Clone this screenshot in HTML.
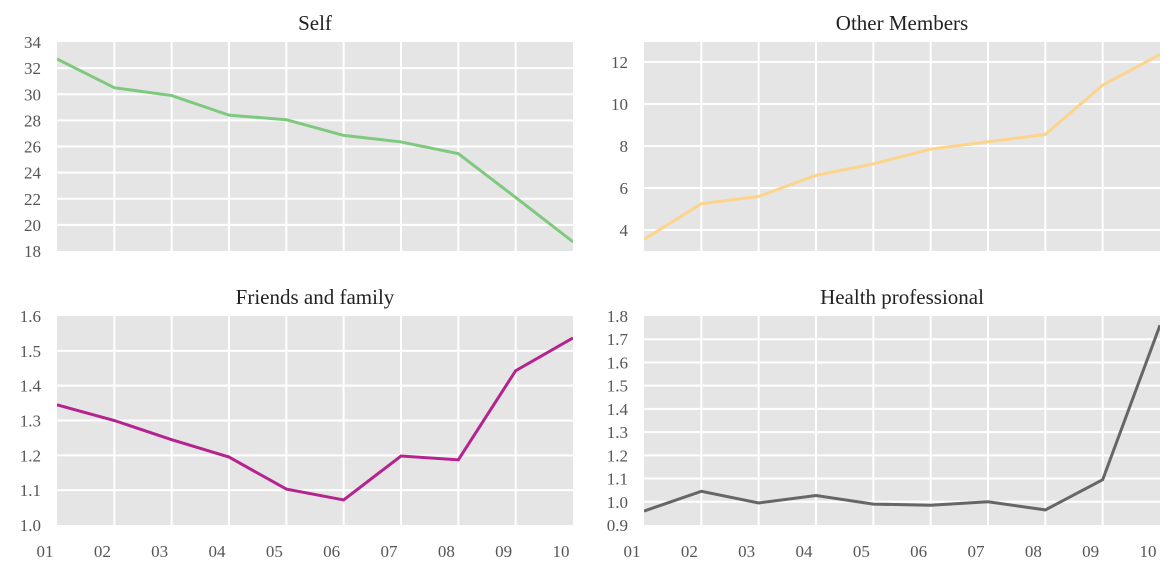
<!DOCTYPE html>
<html><head><meta charset="utf-8"><style>
body{margin:0;background:#fff}
svg text{font-family:"Liberation Serif","DejaVu Serif",serif}
</style></head><body>
<svg id="c" width="1176" height="575"></svg>
<script>
const xLabels=["01","02","03","04","05","06","07","08","09","10"];
const selfVals=[32.7,30.5,29.9,28.4,28.05,26.85,26.35,25.45,22.1,18.7];
const otherVals=[3.55,5.25,5.6,6.6,7.15,7.85,8.2,8.55,10.9,12.35];
const friendsVals=[1.345,1.30,1.245,1.195,1.103,1.072,1.198,1.187,1.443,1.537];
const healthVals=[0.96,1.045,0.995,1.027,0.99,0.985,1.0,0.965,1.095,1.76];
const selfTicks=[18,20,22,24,26,28,30,32,34];
const otherTicks=[4,6,8,10,12];
const friendsTicks=[1.0,1.1,1.2,1.3,1.4,1.5,1.6];
const healthTicks=[0.9,1.0,1.1,1.2,1.3,1.4,1.5,1.6,1.7,1.8];
const NS="http://www.w3.org/2000/svg";
const svg=document.getElementById('c');
function mk(t,a,p){const e=document.createElementNS(NS,t);for(const k in a)e.setAttribute(k,a[k]);(p||svg).appendChild(e);return e;}
const panels=[
 {name:"self",title:"Self",x0:57,y0:42,vals:selfVals,ticks:selfTicks,ymin:18,ymax:34,color:"#7fc97f",fmt:v=>String(v),xl:false},
 {name:"other-members",title:"Other Members",x0:644,y0:42,vals:otherVals,ticks:otherTicks,ymin:3.0,ymax:12.95,color:"#fdd48c",fmt:v=>String(v),xl:false},
 {name:"friends-family",title:"Friends and family",x0:57,y0:316,vals:friendsVals,ticks:friendsTicks,ymin:1.0,ymax:1.6,color:"#b5238f",fmt:v=>v.toFixed(1),xl:true},
 {name:"health-professional",title:"Health professional",x0:644,y0:316,vals:healthVals,ticks:healthTicks,ymin:0.9,ymax:1.8,color:"#666666",fmt:v=>v.toFixed(1),xl:true}
];
const W=516,H=209;
panels.forEach(p=>{
 const g=mk('g',{});
 
 
 const xs=i=>p.x0+i*W/(xLabels.length-1);
 const ys=v=>p.y0+(p.ymax-v)/(p.ymax-p.ymin)*H;
 const bg=mk('rect',{x:p.x0,y:p.y0,width:W,height:H,fill:"#e5e5e5"},g);
 
 
 xLabels.forEach((l,i)=>{
  if(i>0&&i<xLabels.length-1){const gl=mk('line',{x1:xs(i),x2:xs(i),y1:p.y0,y2:p.y0+H,stroke:"#fff","stroke-width":2},g);
  }
  if(p.xl){const t=mk('text',{x:xs(i)-12,y:p.y0+H+32,"text-anchor":"middle","font-size":17,fill:"#555"},g);t.textContent=l;
  }
 });
 p.ticks.forEach(v=>{
  const y=ys(v);
  if(y>p.y0+1&&y<p.y0+H-1){const gl=mk('line',{x1:p.x0,x2:p.x0+W,y1:y,y2:y,stroke:"#fff","stroke-width":2},g);
  }
  const t=mk('text',{x:p.x0-16,y:y+6,"text-anchor":"end","font-size":17,fill:"#555"},g);t.textContent=p.fmt(v);
  
 });
 const pts=p.vals.map((v,i)=>xs(i)+","+ys(v)).join(" ");
 const cp=mk('clipPath',{id:"cl"+p.name},g);mk('rect',{x:p.x0,y:p.y0,width:W,height:H},cp);
 const ln=mk('polyline',{points:pts,fill:"none",stroke:p.color,"stroke-width":3,"clip-path":"url(#cl"+p.name+")"},g);
 
 
 const tt=mk('text',{x:p.x0+W/2,y:p.y0-12,"text-anchor":"middle","font-size":21,fill:"#222"},g);tt.textContent=p.title;
 
 
});
</script>
</body></html>
